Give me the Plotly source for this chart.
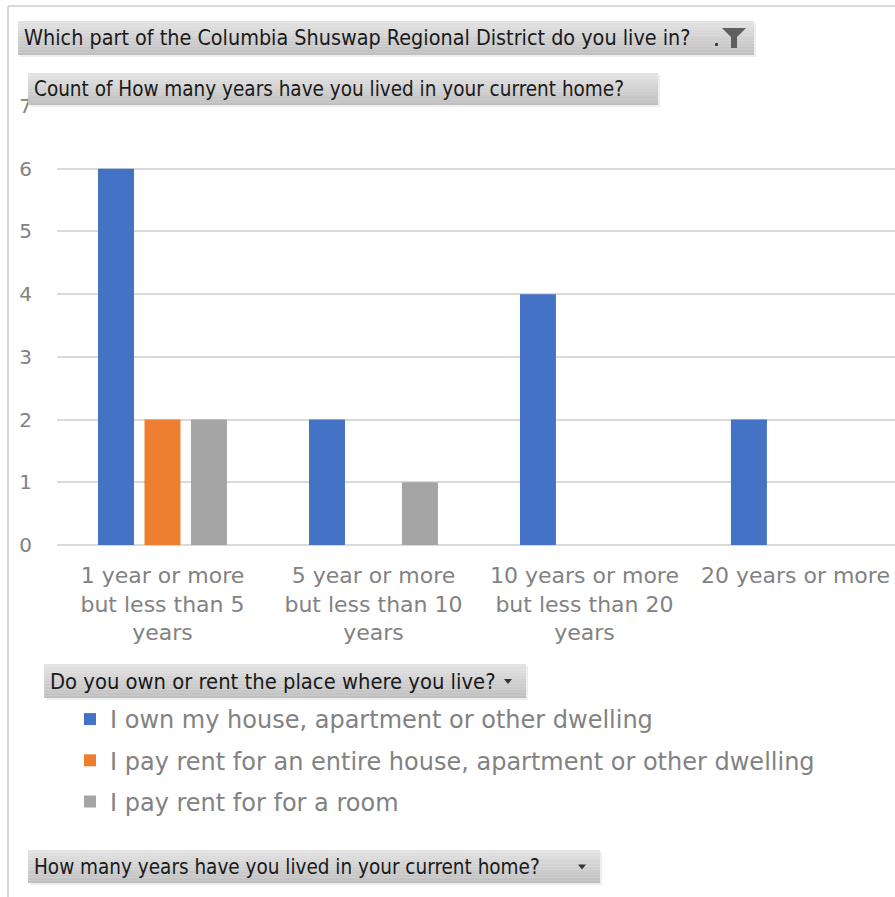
import plotly.graph_objects as go

# ---- data -------------------------------------------------------------
categories = [
    "1 year or more but less than 5 years",
    "5 year or more but less than 10 years",
    "10 years or more but less than 20 years",
    "20 years or more",
]
tick_labels = [
    "1 year or more<br>but less than 5<br>years",
    "5 year or more<br>but less than 10<br>years",
    "10 years or more<br>but less than 20<br>years",
    "20 years or more",
]
series_names = [
    "I own my house, apartment or other dwelling",
    "I pay rent for an entire house, apartment or other dwelling",
    "I pay rent for for a room",
]
own = [6, 2, 4, 2]
rent_entire = [2, None, None, None]
rent_room = [2, 1, None, None]
y_ticks = [0, 1, 2, 3, 4, 5, 6, 7]

series_values = [own, rent_entire, rent_room]
series_colors = ["#4472C4", "#ED7D31", "#A5A5A5"]

# ---- geometry helpers (pixel -> paper) --------------------------------
W, H = 895, 897
PL, PR = 57, 895
PT, PB = 106, 545


def xp(px):
    return (px - PL) / (PR - PL)


def yp(py):
    return (PB - py) / (PB - PT)


AXIS_FONT = "DejaVu Sans, sans-serif"
BTN_FONT = "DejaVu Sans Condensed, sans-serif"
TEXT_GREY = "#828282"

fig = go.Figure()
for i, (name, vals, col) in enumerate(zip(series_names, series_values, series_colors)):
    fig.add_trace(go.Bar(
        x=categories, y=vals, name=name, marker_color=col,
        marker_line_width=0, legendgroup=f"g{i}",
    ))

shapes = []
annotations = []


def button(x0, y0, x1, y1, text, font_size, icon):
    n = 12
    top = (226, 226, 226)
    bot = (192, 192, 192)
    # soft shadow on the right/bottom
    shapes.append(dict(type="rect", xref="paper", yref="paper",
                       x0=xp(x0 + 2), x1=xp(x1 + 2), y0=yp(y1 + 2), y1=yp(y0 + 2),
                       fillcolor="#eeeeee", line_width=0, layer="above"))
    for k in range(n):
        t = k / (n - 1)
        c = tuple(int(round(a + (b - a) * t)) for a, b in zip(top, bot))
        ya = y0 + (y1 - y0) * k / n
        yb = y0 + (y1 - y0) * (k + 1) / n
        shapes.append(dict(type="rect", xref="paper", yref="paper",
                           x0=xp(x0), x1=xp(x1), y0=yp(yb), y1=yp(ya),
                           fillcolor="rgb(%d,%d,%d)" % c, line_width=0, layer="above"))
    annotations.append(dict(xref="paper", yref="paper", x=xp(x0 + 4), y=yp((y0 + y1) / 2),
                            xanchor="left", yanchor="middle", showarrow=False,
                            text=text, font=dict(family=BTN_FONT, size=font_size, color="#1a1a1a")))
    cy = (y0 + y1) / 2
    if icon == "filter":
        fx = x1 - 32
        path = "M {} {} L {} {} L {} {} L {} {} L {} {} L {} {} Z".format(
            xp(fx), yp(cy - 10), xp(fx + 24), yp(cy - 10), xp(fx + 15), yp(cy - 1),
            xp(fx + 15), yp(cy + 10), xp(fx + 9), yp(cy + 10), xp(fx + 9), yp(cy - 1))
        shapes.append(dict(type="path", xref="paper", yref="paper", path=path,
                           fillcolor="#5f5f5f", line_width=0, layer="above"))
        shapes.append(dict(type="rect", xref="paper", yref="paper",
                           x0=xp(fx - 7), x1=xp(fx - 4), y0=yp(cy + 8), y1=yp(cy + 5),
                           fillcolor="#444444", line_width=0, layer="above"))
    elif icon == "arrow":
        ax = x1 - 18
        path = "M {} {} L {} {} L {} {} Z".format(
            xp(ax - 4), yp(cy - 2), xp(ax + 4), yp(cy - 2), xp(ax), yp(cy + 3))
        shapes.append(dict(type="path", xref="paper", yref="paper", path=path,
                           fillcolor="#333333", line_width=0, layer="above"))


# frame of the chart area
shapes.append(dict(type="line", xref="paper", yref="paper",
                   x0=xp(8), x1=xp(900), y0=yp(6), y1=yp(6),
                   line=dict(color="#d9d9d9", width=2), layer="below"))
shapes.append(dict(type="line", xref="paper", yref="paper",
                   x0=xp(8), x1=xp(8), y0=yp(6), y1=yp(900),
                   line=dict(color="#d9d9d9", width=2), layer="below"))

button(18, 21, 754, 55, "Which part of the Columbia Shuswap Regional District do you live in?", 21.4, "filter")
button(28, 73, 658, 105, "Count of How many years have you lived in your current home?", 20.5, "none")
button(44, 664, 526, 698, "Do you own or rent the place where you live?", 21.8, "arrow")
button(28, 850, 600, 883, "How many years have you lived in your current home?", 20.5, "arrow")

fig.update_layout(
    width=W, height=H,
    margin=dict(l=PL, r=W - PR, t=PT, b=H - PB, pad=0),
    paper_bgcolor="white", plot_bgcolor="white",
    barmode="group", bargap=0.339, bargroupgap=0.226,
    showlegend=True,
    legend=dict(x=xp(70), y=yp(697), xanchor="left", yanchor="top",
                font=dict(family=AXIS_FONT, size=24, color=TEXT_GREY),
                tracegroupgap=7, bgcolor="rgba(0,0,0,0)", itemclick=False),
    xaxis=dict(range=[-0.5, 3.472], tickmode="array", tickvals=categories,
               ticktext=tick_labels, showgrid=False, showline=False, zeroline=False,
               ticks="", ticklabelstandoff=15,
               tickfont=dict(family=AXIS_FONT, size=22, color=TEXT_GREY)),
    yaxis=dict(range=[0, 7], tickmode="array", tickvals=y_ticks,
               showgrid=True, gridcolor="#d9d9d9", gridwidth=1.5,
               zeroline=True, zerolinecolor="#d9d9d9", zerolinewidth=1.5,
               showline=False, ticks="", ticklabelstandoff=24,
               tickfont=dict(family=AXIS_FONT, size=20, color=TEXT_GREY)),
    shapes=shapes, annotations=annotations,
)

fig.write_html("out.html")
